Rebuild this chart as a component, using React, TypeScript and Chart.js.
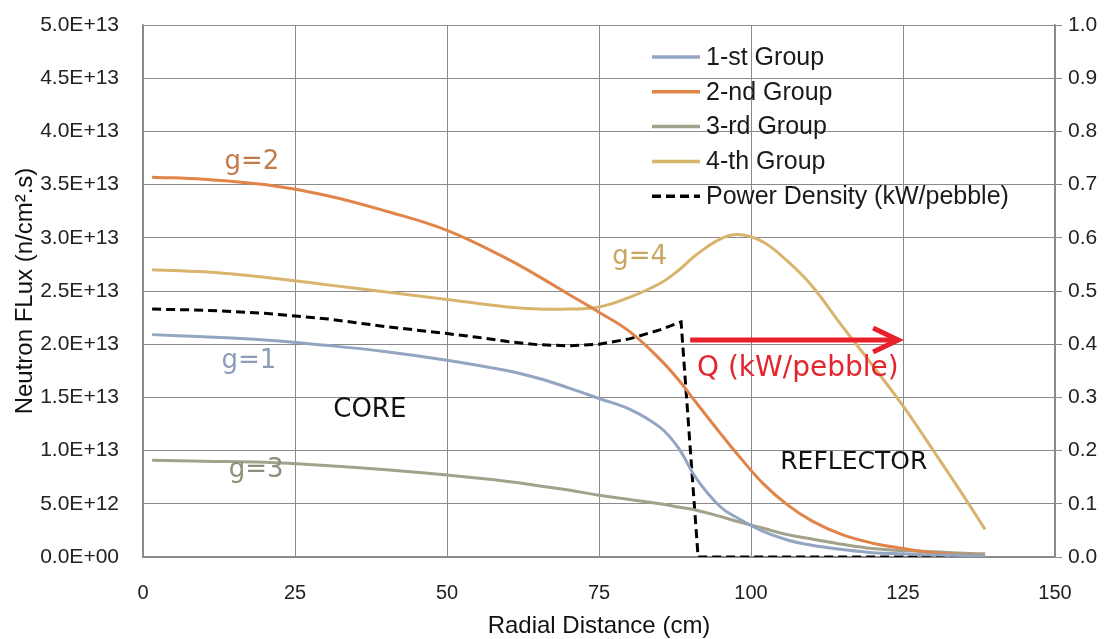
import { useEffect, useRef } from "react";
import { Chart, registerables } from "chart.js";

Chart.register(...registerables);

// Radial positions (cm) where the group fluxes are sampled
const radius = [1.5, 10, 20, 30, 40, 50, 60, 65, 70, 75, 80, 85, 88, 91, 95, 98, 102, 106, 110, 115, 120, 125, 130, 135, 138.5];

// Neutron flux per energy group (n/cm².s)
const group1 = [2.09e13, 2.07e13, 2.04e13, 1.99e13, 1.93e13, 1.85e13, 1.75e13, 1.68e13, 1.59e13, 1.49e13, 1.39e13, 1.22e13, 1.03e13, 0.74e13, 0.47e13, 0.36e13, 0.24e13, 0.16e13, 0.11e13, 0.07e13, 0.04e13, 0.03e13, 0.02e13, 0.015e13, 0.01e13];
const group2 = [3.57e13, 3.55e13, 3.5e13, 3.4e13, 3.25e13, 3.07e13, 2.8e13, 2.64e13, 2.47e13, 2.3e13, 2.12e13, 1.86e13, 1.67e13, 1.45e13, 1.16e13, 0.95e13, 0.69e13, 0.49e13, 0.34e13, 0.21e13, 0.13e13, 0.08e13, 0.04e13, 0.02e13, 0.015e13];
const group3 = [0.91e13, 0.9e13, 0.89e13, 0.86e13, 0.82e13, 0.77e13, 0.71e13, 0.67e13, 0.63e13, 0.58e13, 0.54e13, 0.5e13, 0.47e13, 0.44e13, 0.38e13, 0.33e13, 0.27e13, 0.21e13, 0.17e13, 0.12e13, 0.08e13, 0.06e13, 0.05e13, 0.035e13, 0.03e13];
const group4 = [2.7e13, 2.68e13, 2.63e13, 2.56e13, 2.49e13, 2.42e13, 2.35e13, 2.33e13, 2.33e13, 2.35e13, 2.44e13, 2.57e13, 2.69e13, 2.84e13, 2.99e13, 3.03e13, 2.96e13, 2.78e13, 2.55e13, 2.17e13, 1.8e13, 1.42e13, 1.0e13, 0.57e13, 0.26e13];

// Power density (kW/pebble) on the secondary axis
const powerRadius = [1.5, 10, 20, 30, 40, 50, 55, 60, 65, 70, 75, 80, 85, 88.5, 91.3, 100, 110, 120, 130, 138];
const powerDensity = [0.466, 0.464, 0.458, 0.448, 0.433, 0.42, 0.413, 0.405, 0.399, 0.397, 0.4, 0.41, 0.427, 0.442, 0, 0, 0, 0, 0, 0];

const seriesLabels = ["1-st Group", "2-nd Group", "3-rd Group", "4-th Group", "Power Density (kW/pebble)"];
const seriesColors = ["#93A5C0", "#E0844A", "#A2A28C", "#D8B46C", "#000000"];

const xTicks = [0, 25, 50, 75, 100, 125, 150];

const GRID = "#8a8a8a";
const TICK_FONT = "'Liberation Sans', Arial, sans-serif";
const NOTE_FONT = "'DejaVu Sans', sans-serif";

function sci(v: number): string {
  if (v === 0) return "0.0E+00";
  const exp = Math.floor(Math.log10(v) + 1e-9);
  const mant = v / Math.pow(10, exp);
  return mant.toFixed(1) + "E+" + String(exp).padStart(2, "0");
}

const toPoints = (xs: number[], ys: number[]) => xs.map((x, i) => ({ x, y: ys[i] }));

// In-plot labels, region names, the heat-flow arrow and the legend
const notesPlugin = {
  id: "fluxNotes",
  afterDatasetsDraw(chart: any) {
    const { ctx, scales } = chart;
    const x = scales.x;
    const y = scales.y;
    const y2 = scales.y2;
    ctx.save();
    ctx.textAlign = "center";
    ctx.textBaseline = "middle";

    const notes: [string, number, number, string, number][] = [
      ["g=2", 17.9, 3.71e13, "#C47B4B", 26],
      ["g=1", 17.4, 1.84e13, "#8C9DB7", 26],
      ["g=3", 18.6, 0.82e13, "#8F8F7C", 26],
      ["g=4", 81.7, 2.82e13, "#C9A65E", 26],
      ["CORE", 37.3, 1.38e13, "#111111", 26],
      ["REFLECTOR", 116.9, 0.89e13, "#111111", 25],
      ["Q (kW/pebble)", 107.7, 1.77e13, "#E3262E", 28],
    ];
    for (const [text, nx, ny, color, size] of notes) {
      ctx.font = `${size}px ${NOTE_FONT}`;
      ctx.fillStyle = color;
      ctx.fillText(text, x.getPixelForValue(nx), y.getPixelForValue(ny));
    }

    // arrow
    const ax0 = x.getPixelForValue(90);
    const ax1 = x.getPixelForValue(124.2);
    const ay = y2.getPixelForValue(0.408);
    ctx.strokeStyle = "#E8202A";
    ctx.lineWidth = 5;
    ctx.lineCap = "butt";
    ctx.beginPath();
    ctx.moveTo(ax0, ay);
    ctx.lineTo(ax1 - 2, ay);
    ctx.stroke();
    ctx.lineJoin = "miter";
    ctx.beginPath();
    ctx.moveTo(ax1 - 25, ay - 12);
    ctx.lineTo(ax1, ay);
    ctx.lineTo(ax1 - 25, ay + 12);
    ctx.stroke();

    // legend
    const lx = chart.chartArea.left + 509;
    let ly = chart.chartArea.top + 32;
    ctx.textAlign = "left";
    ctx.font = `25px ${TICK_FONT}`;
    chart.data.datasets.forEach((ds: any) => {
      ctx.strokeStyle = ds.borderColor;
      ctx.lineWidth = 3.5;
      ctx.setLineDash(ds.borderDash || []);
      ctx.beginPath();
      ctx.moveTo(lx, ly);
      ctx.lineTo(lx + 48, ly);
      ctx.stroke();
      ctx.setLineDash([]);
      ctx.fillStyle = "#1a1a1a";
      ctx.fillText(ds.label, lx + 54, ly + 1);
      ly += 34.8;
    });
    ctx.restore();
  },
};

export default function App() {
  const canvasRef = useRef<HTMLCanvasElement | null>(null);

  useEffect(() => {
    const canvas = canvasRef.current;
    if (!canvas) return;
    const fluxSeries = [group1, group2, group3, group4];
    const datasets: any[] = fluxSeries.map((vals, i) => ({
      label: seriesLabels[i],
      data: toPoints(radius, vals),
      borderColor: seriesColors[i],
      borderWidth: 3,
      pointRadius: 0,
      tension: 0.4,
      yAxisID: "y",
    }));
    datasets.push({
      label: seriesLabels[4],
      data: toPoints(powerRadius, powerDensity),
      borderColor: seriesColors[4],
      borderWidth: 3,
      borderDash: [9, 5],
      pointRadius: 0,
      tension: 0,
      yAxisID: "y2",
    });

    const chart = new Chart(canvas, {
      type: "line",
      data: { datasets },
      plugins: [notesPlugin],
      options: {
        animation: false,
        responsive: false,
        layout: { padding: { top: 25, left: 0, right: 0, bottom: 0 } },
        plugins: { legend: { display: false }, tooltip: { enabled: false } },
        scales: {
          x: {
            type: "linear",
            min: 0,
            max: 150,
            afterBuildTicks: (s: any) => {
              s.ticks = xTicks.map((v) => ({ value: v }));
            },
            afterFit: (s: any) => {
              s.height = 82;
            },
            grid: { color: GRID, lineWidth: 1, drawTicks: false },
            border: { display: true, color: GRID, width: 1.5 },
            ticks: { color: "#222", font: { family: TICK_FONT, size: 20 }, padding: 24, maxRotation: 0 },
            title: {
              display: true,
              text: "Radial Distance (cm)",
              color: "#111",
              font: { family: TICK_FONT, size: 24, lineHeight: 1 },
              padding: { top: 0, bottom: 1 },
            },
          },
          y: {
            type: "linear",
            position: "left",
            min: 0,
            max: 5e13,
            ticks: {
              stepSize: 5e12,
              color: "#222",
              font: { family: TICK_FONT, size: 21 },
              padding: 24,
              callback: (v: any) => sci(Number(v)),
            },
            afterFit: (s: any) => {
              s.width = 143;
              s.paddingTop = 0;
              s.paddingBottom = 0;
            },
            grid: { color: GRID, lineWidth: 1, drawTicks: false },
            border: { display: true, color: GRID, width: 1.5 },
            title: {
              display: true,
              text: "Neutron FLux (n/cm².s)",
              color: "#111",
              font: { family: TICK_FONT, size: 24, lineHeight: 1 },
              padding: { top: 13, bottom: 0 },
            },
          },
          y2: {
            type: "linear",
            position: "right",
            min: 0,
            max: 1,
            ticks: {
              stepSize: 0.1,
              color: "#222",
              font: { family: TICK_FONT, size: 21 },
              padding: 6,
              callback: (v: any) => Number(v).toFixed(1),
            },
            afterFit: (s: any) => {
              s.width = 54;
              s.paddingTop = 0;
              s.paddingBottom = 0;
            },
            grid: { drawOnChartArea: false, color: GRID, tickLength: 7, lineWidth: 1 },
            border: { display: true, color: GRID, width: 1.5 },
          },
        },
      },
    });
    return () => chart.destroy();
  }, []);

  return (
    <div style={{ position: "absolute", left: 0, top: 0, width: 1109, height: 639, background: "#fff" }}>
      <canvas ref={canvasRef} width={1109} height={639} style={{ display: "block", width: 1109, height: 639 }} />
    </div>
  );
}
